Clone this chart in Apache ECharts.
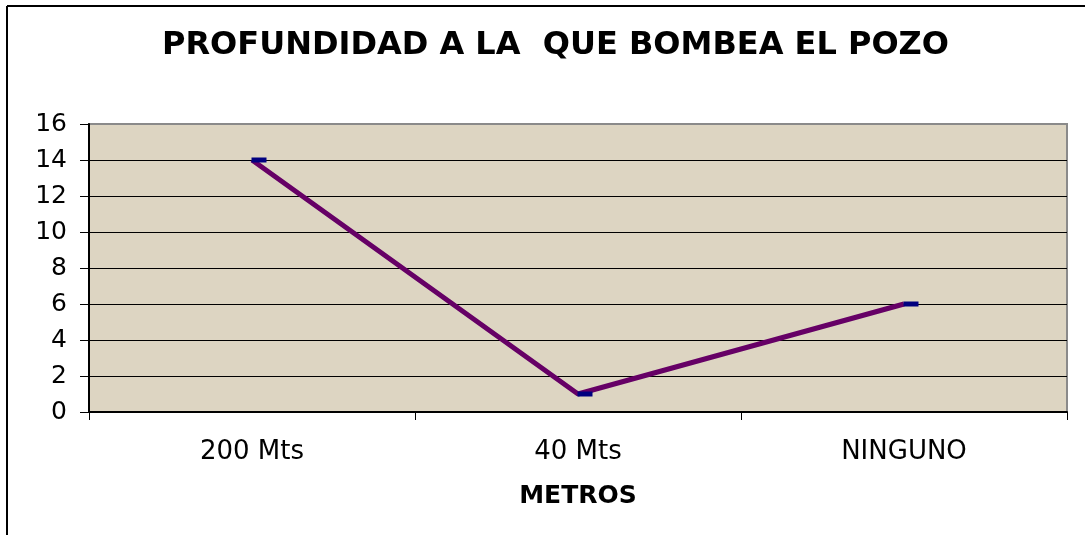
<!DOCTYPE html>
<html>
<head>
<meta charset="utf-8">
<script src="https://cdn.jsdelivr.net/npm/echarts@6/dist/echarts.min.js"></script>
<style>
  html, body { margin: 0; padding: 0; background: #fff; }
  #chart { width: 1085px; height: 535px; }
</style>
</head>
<body>
<div id="chart"></div>
<script>
const categories = ['200 Mts', '40 Mts', 'NINGUNO']
const values = [14, 1, 6]
const yTicks = [0, 2, 4, 6, 8, 10, 12, 14, 16]

const chart = echarts.init(document.getElementById('chart'))

const option = {
  animation: false,
  backgroundColor: '#ffffff',
  title: {
    text: 'PROFUNDIDAD A LA  QUE BOMBEA EL POZO',
    left: 157,
    top: 25,
    textStyle: {
      fontFamily: 'DejaVu Sans',
      fontSize: 32,
      fontWeight: 'bold',
      color: '#000'
    }
  },
  grid: {
    left: 89,
    right: 18,
    top: 124,
    bottom: 123,
    show: true,
    backgroundColor: '#ddd5c2',
    borderColor: '#8a8a8a',
    borderWidth: 2
  },
  xAxis: {
    type: 'category',
    data: categories,
    boundaryGap: true,
    name: 'METROS',
    nameLocation: 'middle',
    nameGap: 72,
    nameTextStyle: {
      fontFamily: 'DejaVu Sans',
      fontSize: 25,
      fontWeight: 'bold',
      color: '#000'
    },
    axisLine: { lineStyle: { color: '#000', width: 2 } },
    axisTick: { show: true, length: 8, lineStyle: { color: '#000', width: 1 } },
    axisLabel: {
      margin: 27,
      fontFamily: 'DejaVu Sans',
      fontSize: 26,
      color: '#000'
    },
    splitLine: { show: false }
  },
  yAxis: {
    type: 'value',
    min: yTicks[0],
    max: yTicks[yTicks.length - 1],
    interval: 2,
    axisLine: { show: true, lineStyle: { color: '#000', width: 2 } },
    axisTick: { show: true, length: 9, lineStyle: { color: '#000', width: 1 } },
    axisLabel: {
      margin: 22,
      fontFamily: 'DejaVu Sans',
      fontSize: 25,
      color: '#000'
    },
    splitLine: {
      show: true,
      showMinLine: false,
      showMaxLine: false,
      lineStyle: { color: '#000', width: 1 }
    }
  },
  series: [
    {
      type: 'line',
      data: values,
      lineStyle: { color: '#660066', width: 5 },
      symbol: 'rect',
      symbolSize: [15, 5],
      symbolOffset: [7, 0],
      itemStyle: { color: '#000080' },
      z: 3
    }
  ],
  graphic: [
    {
      type: 'line',
      shape: { x1: 7, y1: 6, x2: 1085, y2: 6 },
      style: { stroke: '#000', lineWidth: 2 }
    },
    {
      type: 'line',
      shape: { x1: 7, y1: 6, x2: 7, y2: 535 },
      style: { stroke: '#000', lineWidth: 2 }
    }
  ]
}

chart.setOption(option)

window.addEventListener('resize', () => {
  chart.resize()
})
</script>
</body>
</html>
